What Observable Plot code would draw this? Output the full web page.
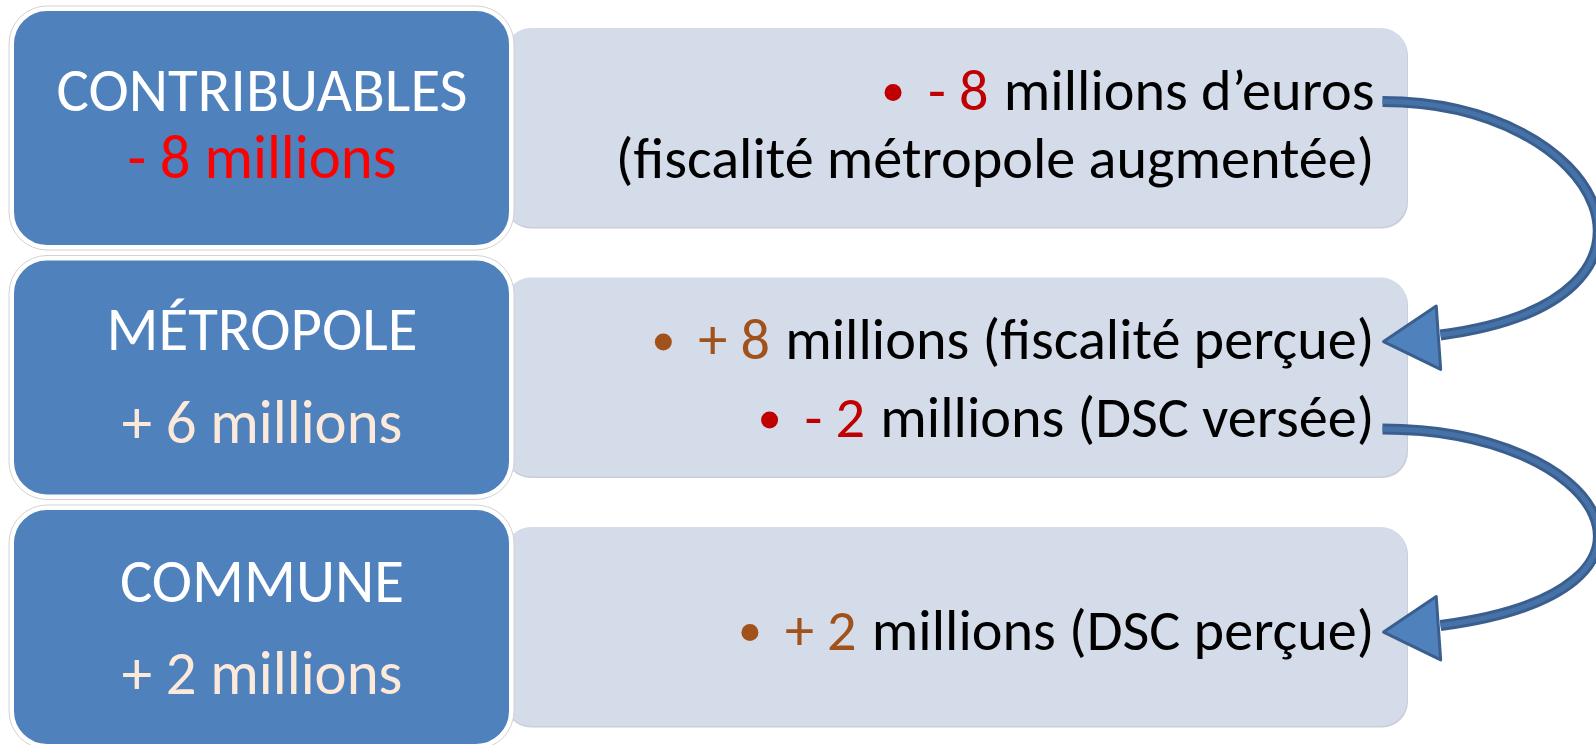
<!DOCTYPE html>
<html><head><meta charset="utf-8">
<script src="https://cdn.jsdelivr.net/npm/d3@7"></script>
<script src="https://cdn.jsdelivr.net/npm/@observablehq/plot@0.6"></script>
<style>html,body{margin:0;padding:0;background:#fff;overflow:hidden}</style>
</head><body><div id="chart"></div>
<script>
// ---------- data ----------
const entities = ["CONTRIBUABLES", "MÉTROPOLE", "COMMUNE"];
const netBalance = [-8, 6, 2];                 // millions d'euros
const flowEntity = [0, 0, 1, 1, 2];
const flowAmount = [-8, null, 8, -2, 2];
const flowText = ["millions d’euros", "(fiscalité métropole augmentée)", "millions (fiscalité perçue)", "millions (DSC versée)", "millions (DSC perçue)"];
const transferFrom = [0, 3];                  // index in flow lines
const transferTo = [2, 4];

// ---------- layout / style ----------
const W = 1596, H = 745;
const FONT = "Carlito, Lato, sans-serif";
const BLUE = "#4f81bd", LIGHT = "#d4dbe9";
const NEG = "#c00000", POS = "#a0521a";
const rowTop = i => 10 + i * 249.5;
const blueX1 = 13, blueX2 = 510, blueH = 236;
const lightX1 = 505, lightX2 = 1407, lightT = 18, lightB = 217;
const labelOffsets = [[100, 167], [90, 183], [92, 184]];
const flowOffsets = [[99, 167], [99, 177], [140]];
const textRight = 1374;

const ctx = document.createElement("canvas").getContext("2d");
const tw = (s, size) => { ctx.font = `${size}px ${FONT}`; return ctx.measureText(s).width; };
const fmt = v => (v < 0 ? "- " : "+ ") + Math.abs(v);

function draw() {
  const leftSize = 100 * 411 / tw(entities[0], 100);
  const rightSize = 100 * 759 / tw(flowText[1], 100);

  const rows = entities.map((name, i) => ({name, i, top: rowTop(i), net: netBalance[i]}));
  const labels = rows.flatMap(r => [
    {text: r.name, y: r.top + labelOffsets[r.i][0], fill: "white"},
    {text: fmt(r.net) + " millions", y: r.top + labelOffsets[r.i][1], fill: r.net < 0 ? "#ff0000" : "#fde9d9"}
  ]);

  const counter = {};
  const flows = flowText.map((t, k) => {
    const e = flowEntity[k];
    const j = counter[e] = (counter[e] ?? -1) + 1;
    const base = rowTop(e) + flowOffsets[e][j];
    const blackStart = textRight - tw(t, rightSize);
    const a = flowAmount[k];
    const amt = a == null ? null : fmt(a);
    const amtEnd = blackStart - tw(" ", rightSize) - 2;
    const amtStart = amt == null ? null : amtEnd - tw(amt, rightSize);
    return {t, base, amt, amtEnd, bulletX: amtStart - 35, color: a < 0 ? NEG : POS};
  });

  const headH = 55;
  const transfers = transferFrom.map((f, k) => {
    const s = flows[f], d = flows[transferTo[k]];
    const tipX = textRight + 9, tipY = d.base - 20;
    return {
      x1: textRight + 8, y1: s.base - 8,
      x2: tipX + headH + 2, y2: tipY - 4,
      cx: tipX + 2 * headH / 3, cy: tipY
    };
  });

  function bendCurve(context) {
    let p = [];
    return {
      areaStart() {}, areaEnd() {},
      lineStart() { p = []; },
      point(x, y) { p.push([+x, +y]); },
      lineEnd() {
        if (p.length < 2) return;
        const [[x0, y0], [x1, y1]] = p;
        context.moveTo(x0, y0);
        context.bezierCurveTo(x0 + 220, y0, x1 + 265, y1 - 35, x1, y1);
      }
    };
  }

  const triR = Math.sqrt(3 * Math.sqrt(3) * (headH / 3) ** 2 / Math.PI);

  const chart = Plot.plot({
    width: W, height: H, margin: 0,
    x: {domain: [0, W], axis: null},
    y: {domain: [0, H], reverse: true, axis: null},
    color: {type: "identity"},
    marks: [
      // light panels
      Plot.rect(rows, {x1: lightX1, x2: lightX2 + 1, y1: r => r.top + lightT + 1.5, y2: r => r.top + lightB + 1.5, rx: 26, fill: "#c9ced8"}),
      Plot.rect(rows, {x1: lightX1, x2: lightX2, y1: r => r.top + lightT, y2: r => r.top + lightB, rx: 26, fill: LIGHT}),
      // blue boxes
      Plot.rect(rows, {x1: blueX1 - 4, x2: blueX2 + 4, y1: r => r.top - 4, y2: r => r.top + blueH + 4, rx: 38, fill: "white", stroke: "#d2d2d2", strokeWidth: 1}),
      Plot.rect(rows, {x1: blueX1, x2: blueX2, y1: r => r.top, y2: r => r.top + blueH, rx: 34, fill: BLUE, stroke: "white", strokeWidth: 2}),
      Plot.text(labels, {x: (blueX1 + blueX2) / 2, y: "y", text: "text", fill: "fill", fontSize: leftSize, fontFamily: FONT, textAnchor: "middle", lineAnchor: "bottom"}),
      // flow lines
      Plot.text(flows, {x: textRight, y: "base", text: "t", fill: "black", fontSize: rightSize, fontFamily: FONT, textAnchor: "end", lineAnchor: "bottom"}),
      Plot.text(flows.filter(d => d.amt), {x: "amtEnd", y: "base", text: "amt", fill: "color", fontSize: rightSize, fontFamily: FONT, textAnchor: "end", lineAnchor: "bottom"}),
      Plot.dot(flows.filter(d => d.amt), {x: "bulletX", y: d => d.base - 17, r: 8.5, fill: "color", stroke: null}),
      // arrows
      Plot.link(transfers, {x1: "x1", y1: "y1", x2: "x2", y2: "y2", curve: bendCurve, stroke: "#3a5f8e", strokeWidth: 11, strokeLinecap: "butt"}),
      Plot.link(transfers, {x1: "x1", y1: "y1", x2: "x2", y2: "y2", curve: bendCurve, stroke: "#4672a8", strokeWidth: 5, strokeLinecap: "butt"}),
      Plot.dot(transfers, {x: "cx", y: "cy", symbol: "triangle", r: triR, rotate: -94, fill: BLUE, stroke: "#3a5f8e", strokeWidth: 3, strokeLinejoin: "round"})
    ]
  });
  document.getElementById("chart").appendChild(chart);
}

if (document.fonts && document.fonts.load) {
  Promise.all([document.fonts.load(`50px Lato`), document.fonts.load(`50px Carlito`)]).catch(() => {}).then(draw);
} else draw();
</script>
</body></html>
